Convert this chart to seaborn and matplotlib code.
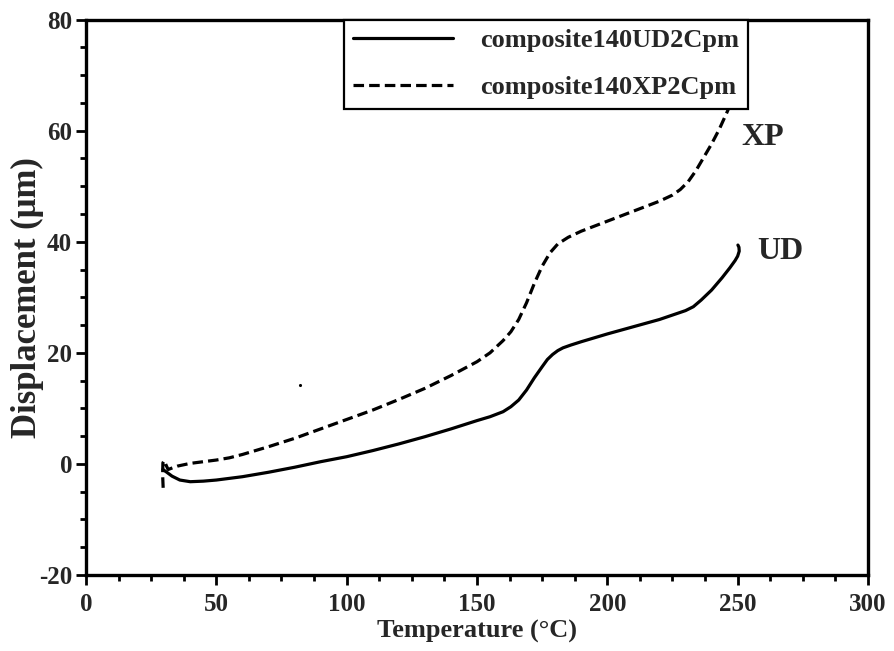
import numpy as np
import pandas as pd
import matplotlib
matplotlib.use("Agg")
import matplotlib.pyplot as plt
from matplotlib.ticker import MultipleLocator
import seaborn as sns

# Thermal displacement of the two composite lay-ups
temp_ud = [29.5, 31, 33, 36, 40, 45, 50, 60, 70, 80, 90, 100, 110, 120, 130,
           140, 150, 155, 160, 163, 166, 169, 172, 175, 177, 179, 181, 183,
           186, 190, 200, 210, 220, 230, 233, 236, 240, 244, 247, 249, 250,
           250.6, 250.5, 250.1]
disp_ud = [-1.0, -1.5, -2.2, -2.9, -3.2, -3.1, -2.9, -2.3, -1.5, -0.6, 0.4,
           1.3, 2.4, 3.6, 4.9, 6.3, 7.8, 8.5, 9.4, 10.3, 11.5, 13.3, 15.5,
           17.5, 18.8, 19.7, 20.4, 20.9, 21.4, 22.0, 23.4, 24.7, 26.0, 27.6,
           28.3, 29.5, 31.3, 33.5, 35.3, 36.6, 37.4, 38.3, 39.0, 39.4]

temp_xp = [29.6, 29.4, 29.5, 30.0, 30.8, 31.5, 35, 40, 45, 50, 55, 60, 70,
           80, 90, 100, 110, 120, 130, 140, 150, 155, 160, 163, 166, 169, 172,
           175, 178, 181, 185, 190, 200, 210, 220, 225, 228, 231, 234, 237,
           240, 243, 246, 249, 252]
disp_xp = [-4.3, -2.0, 0.2, 0.6, -0.3, -1.0, -0.4, 0.1, 0.4, 0.7, 1.1, 1.7,
           3.1, 4.6, 6.3, 8.0, 9.7, 11.6, 13.6, 15.9, 18.4, 20.0, 22.2, 23.8,
           26.0, 29.0, 32.5, 35.6, 38.0, 39.6, 40.8, 41.9, 43.7, 45.5, 47.3,
           48.4, 49.4, 50.8, 52.8, 55.2, 57.6, 60.3, 63.4, 66.8, 70.5]

# isolated speck on the plot area
speck_t = [82.0]
speck_d = [14.2]

series_names = ["composite140UD2Cpm", "composite140XP2Cpm"]
curve_tags = ["XP", "UD"]
tag_x = [251.5, 257.4]
tag_y = [58.7, 38.2]

x_ticks = [0, 50, 100, 150, 200, 250, 300]
y_ticks = [-20, 0, 20, 40, 60, 80]

df = pd.concat([
    pd.DataFrame({"T": temp_ud, "D": disp_ud, "series": series_names[0]}),
    pd.DataFrame({"T": temp_xp, "D": disp_xp, "series": series_names[1]}),
], ignore_index=True)

sns.set_style("ticks")
plt.rcParams["font.family"] = ["Liberation Serif", "DejaVu Serif"]
plt.rcParams["font.weight"] = "bold"
plt.rcParams["axes.unicode_minus"] = False

fig = plt.figure(figsize=(8.94, 6.51), dpi=100)
ax = fig.add_axes([0.0962, 0.1167, 0.8747, 0.8533])

sns.lineplot(data=df, x="T", y="D", style="series", color="black",
             dashes={series_names[0]: "", series_names[1]: (3.3, 1.6)},
             sort=False, estimator=None, linewidth=2.3, ax=ax)
sns.scatterplot(x=speck_t, y=speck_d, color="black", s=5, linewidth=0, ax=ax)

ax.set_xlim(0, 300)
ax.set_ylim(-20, 80)
ax.set_xticks(x_ticks)
ax.set_yticks(y_ticks)
ax.xaxis.set_minor_locator(MultipleLocator(12.5))
ax.yaxis.set_minor_locator(MultipleLocator(5))
ax.tick_params(which="major", direction="out", length=7, width=2,
               labelsize=18, color="black")
ax.tick_params(which="minor", direction="out", length=4, width=2,
               color="black")
ax.tick_params(axis="x", which="major", pad=6)
ax.tick_params(axis="y", which="major", pad=3)
for lab in ax.get_xticklabels() + ax.get_yticklabels():
    lab.set_fontweight("bold")
for sp in ax.spines.values():
    sp.set_visible(True)
    sp.set_linewidth(2.4)
    sp.set_color("black")

ax.set_xlabel("Temperature (°C)", fontsize=19, fontweight="bold", labelpad=3)
ax.set_ylabel("Displacement (μm)", fontsize=25, fontweight="bold",
              labelpad=-4)

for tag, tx, ty in zip(curve_tags, tag_x, tag_y):
    ax.text(tx, ty, tag, fontsize=23, fontweight="bold", ha="left",
            va="center")

handles, labels = ax.get_legend_handles_labels()
pairs = [(h, l) for h, l in zip(handles, labels) if l in series_names]
leg = ax.legend([p[0] for p in pairs], [p[1] for p in pairs],
                loc="upper right", bbox_to_anchor=(0.8465, 1.0),
                borderaxespad=0, fancybox=False, framealpha=1,
                edgecolor="black", fontsize=19, handlelength=3.8,
                handletextpad=1.0, labelspacing=0.9, borderpad=0.35)
leg.get_frame().set_linewidth(1.6)
for t in leg.get_texts():
    t.set_fontweight("bold")

fig.savefig("out.png", dpi=100)
